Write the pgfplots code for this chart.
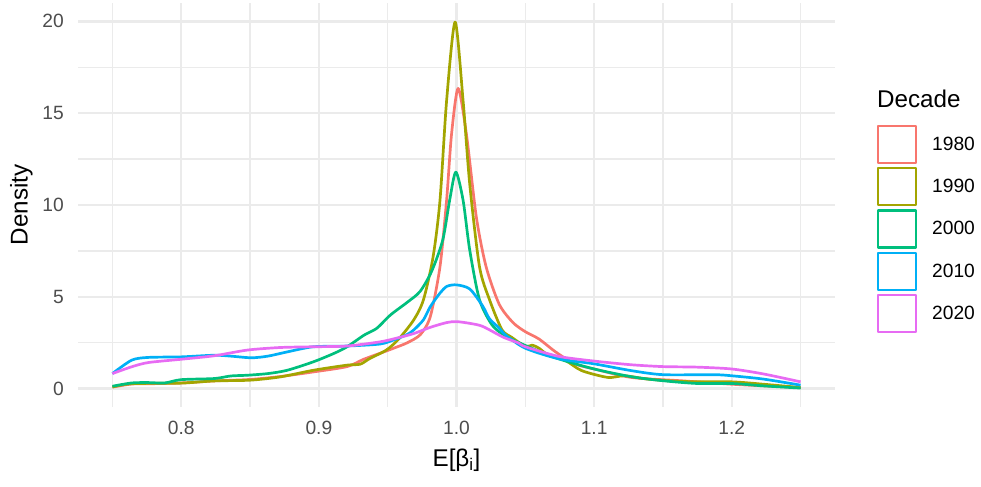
\documentclass[border=0pt]{standalone}
\usepackage{fontspec}
\setmainfont{Liberation Sans}
\usepackage{pgfplots}
\pgfplotsset{compat=1.18}
\definecolor{c1980}{HTML}{F8766D}
\definecolor{c1990}{HTML}{A3A500}
\definecolor{c2000}{HTML}{00BF7D}
\definecolor{c2010}{HTML}{00B0F6}
\definecolor{c2020}{HTML}{E76BF3}
\definecolor{gridc}{HTML}{EBEBEB}
\definecolor{tickc}{HTML}{4D4D4D}
\newcommand{\tickfont}{\fontsize{19.2bp}{22bp}\selectfont}
\newcommand{\titlefont}{\fontsize{24.2bp}{28bp}\selectfont}
\begin{document}
\begin{tikzpicture}
\useasboundingbox (0,0) rectangle (981bp,487bp);
\begin{axis}[
  at={(78bp,80bp)}, anchor=south west,
  scale only axis, width=757bp, height=404bp,
  xmin=0.725, xmax=1.275, ymin=-1, ymax=21,
  axis line style={draw=none},
  tick style={draw=none},
  major tick length=0pt, minor tick length=0pt,
  xtick={0.8,0.9,1.0,1.1,1.2},
  xticklabels={0.8,0.9,1.0,1.1,1.2},
  minor xtick={0.75,0.85,0.95,1.05,1.15,1.25},
  ytick={0,5,10,15,20},
  yticklabels={0,5,10,15,20},
  minor ytick={2.5,7.5,12.5,17.5},
  grid=both,
  major grid style={draw=gridc, line width=2.4bp},
  minor grid style={draw=gridc, line width=1.3bp},
  /pgf/number format/assume math mode=true,
  xticklabel style={font=\tickfont, text=tickc, inner sep=0pt, anchor=north, yshift=-14bp},
  yticklabel style={font=\tickfont, text=tickc, inner sep=0pt, anchor=east, xshift=-14bp},
  xlabel={E[β\textsubscript{i}]},
  ylabel={Density},
  xlabel style={font=\titlefont, inner sep=0pt, anchor=base, at={(axis description cs:0.5,-0.1485)}},
  ylabel style={font=\titlefont, inner sep=0pt, rotate=0, anchor=south, at={(axis description cs:-0.0595,0.5)}},
  every axis plot post/.append style={line width=2.7bp, smooth, tension=0.45, line join=round},
  legend image code/.code={\draw[#1, line width=2.2bp, sharp plot] (0bp,-18.5bp) rectangle (37.5bp,18.5bp);},
  legend style={at={(axis description cs:1.0555,0.698)}, anchor=north west, draw=none, fill=none, inner sep=0pt, outer sep=0pt, row sep=3bp, font=\tickfont, nodes={inner sep=0pt}, cells={anchor=west}, /tikz/every odd column/.append style={column sep=15.5bp}},
  legend cell align=left,
]
\addplot[c1980] coordinates {
(0.75,0.08) (0.764,0.25) (0.78,0.27) (0.80,0.31) (0.824,0.42) (0.85,0.50) (0.872,0.66) (0.896,0.91) (0.9205,1.2) (0.9326,1.6) (0.949,2.05) (0.955,2.22) (0.964,2.49) (0.9737,2.94) (0.981,3.93) (0.988,6.64) (0.9928,10.25) (0.9964,13.86) (1.0012,16.35) (1.0072,13.86) (1.0144,9.35) (1.0215,6.64) (1.031,4.6) (1.041,3.6) (1.05,3.1) (1.06,2.7) (1.072,2.0) (1.086,1.35) (1.1,1.07) (1.127,0.61) (1.163,0.43) (1.2,0.24) (1.223,0.15) (1.25,0.06)
};
\addlegendentry{1980}
\addplot[c1990] coordinates {
(0.75,0.09) (0.764,0.27) (0.80,0.30) (0.824,0.42) (0.85,0.46) (0.872,0.64) (0.896,1.0) (0.9205,1.28) (0.93,1.33) (0.937,1.64) (0.949,2.1) (0.958,2.7) (0.969,3.75) (0.976,4.84) (0.983,7.18) (0.988,10.25) (0.9928,15.67) (0.999,19.96) (1.0048,15.67) (1.0096,11.15) (1.0167,6.64) (1.024,4.84) (1.033,3.21) (1.04,2.8) (1.05,2.3) (1.055,2.37) (1.06,2.2) (1.067,1.81) (1.079,1.54) (1.091,0.98) (1.11,0.61) (1.122,0.70) (1.139,0.52) (1.163,0.39) (1.2,0.37) (1.223,0.24) (1.25,0.06)
};
\addlegendentry{1990}
\addplot[c2000] coordinates {
(0.75,0.13) (0.764,0.31) (0.776,0.33) (0.788,0.31) (0.80,0.49) (0.824,0.55) (0.836,0.69) (0.848,0.73) (0.863,0.82) (0.877,1.0) (0.896,1.46) (0.911,1.92) (0.9205,2.28) (0.933,2.92) (0.942,3.28) (0.952,4.01) (0.964,4.69) (0.9735,5.29) (0.982,6.4) (0.990,8.09) (0.995,10.25) (0.9995,11.79) (1.0048,10.25) (1.0096,7.55) (1.0167,4.84) (1.026,3.45) (1.036,2.85) (1.05,2.35) (1.074,1.63) (1.1,1.07) (1.127,0.65) (1.15,0.43) (1.175,0.28) (1.2,0.28) (1.223,0.15) (1.25,0.03)
};
\addlegendentry{2000}
\addplot[c2010] coordinates {
(0.75,0.82) (0.764,1.55) (0.776,1.7) (0.80,1.73) (0.824,1.82) (0.836,1.77) (0.851,1.68) (0.863,1.77) (0.877,2.0) (0.896,2.28) (0.9205,2.32) (0.9446,2.43) (0.955,2.67) (0.964,2.94) (0.969,3.2) (0.976,3.75) (0.981,4.47) (0.988,5.2) (0.993,5.57) (1.0,5.65) (1.0096,5.43) (1.019,4.5) (1.024,3.8) (1.031,3.3) (1.036,2.9) (1.05,2.2) (1.074,1.63) (1.1,1.35) (1.127,0.98) (1.15,0.76) (1.187,0.76) (1.2,0.70) (1.223,0.52) (1.25,0.19)
};
\addlegendentry{2010}
\addplot[c2020] coordinates {
(0.75,0.82) (0.764,1.19) (0.776,1.42) (0.80,1.6) (0.824,1.79) (0.848,2.1) (0.872,2.24) (0.896,2.28) (0.9205,2.32) (0.9446,2.55) (0.957,2.76) (0.969,3.0) (0.981,3.34) (0.993,3.6) (1.0,3.65) (1.01,3.55) (1.019,3.39) (1.034,2.8) (1.045,2.49) (1.05,2.28) (1.074,1.76) (1.1,1.5) (1.127,1.3) (1.15,1.2) (1.175,1.17) (1.2,1.07) (1.223,0.8) (1.25,0.37)
};
\addlegendentry{2020}
\end{axis}
\node[anchor=base west, inner sep=0pt, font=\titlefont] at (877bp,379bp) {Decade};
\end{tikzpicture}
\end{document}
